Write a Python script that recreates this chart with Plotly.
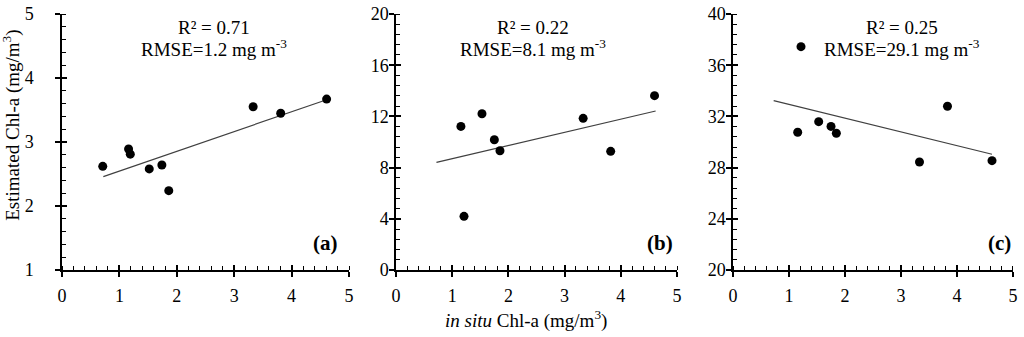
import plotly.graph_objects as go

# ---- data ----
x_a = [0.71, 1.16, 1.19, 1.52, 1.74, 1.86, 3.33, 3.81, 4.61]
y_a = [2.62, 2.89, 2.81, 2.58, 2.64, 2.24, 3.55, 3.45, 3.67]
trend_x_a = [0.72, 4.61]
trend_y_a = [2.46, 3.66]

x_b = [1.155, 1.21, 1.53, 1.75, 1.85, 3.33, 3.82, 4.60]
y_b = [11.22, 4.19, 12.21, 10.18, 9.32, 11.85, 9.27, 13.62]
trend_x_b = [0.72, 4.62]
trend_y_b = [8.41, 12.42]

x_c = [1.155, 1.214, 1.53, 1.75, 1.845, 3.33, 3.83, 4.625]
y_c = [30.76, 37.45, 31.59, 31.22, 30.68, 28.44, 32.79, 28.54]
trend_x_c = [0.726, 4.625]
trend_y_c = [33.23, 29.04]

r2_labels = ["R² = 0.71", "R² = 0.22", "R² = 0.25"]
rmse_labels = ["RMSE=1.2 mg m<sup>-3</sup>", "RMSE=8.1 mg m<sup>-3</sup>", "RMSE=29.1 mg m<sup>-3</sup>"]
panel_labels = ["(a)", "(b)", "(c)"]
y_ranges = [[1, 5], [0, 20], [20, 40]]
y_dticks = [1, 4, 4]
y_minor = [0.2, 0.8, 0.8]
x_range = [0, 5]

FONT = "Liberation Serif"

panels = [(x_a, y_a, trend_x_a, trend_y_a), (x_b, y_b, trend_x_b, trend_y_b), (x_c, y_c, trend_x_c, trend_y_c)]
domains = [[0.0, 0.3018], [0.3512, 0.6467], [0.7056, 1.0]]
r2_x = [0.53, 0.488, 0.604]
lab_x = [0.969, 0.993, 1.0]
ystandoff = [18, -3, -3]

fig = go.Figure()
layout = {}
for i, (px, py, tx, ty) in enumerate(panels):
    n = i + 1
    xs = "x" if n == 1 else f"x{n}"
    ys = "y" if n == 1 else f"y{n}"
    fig.add_trace(go.Scatter(x=tx, y=ty, mode="lines", line=dict(color="#404040", width=1.2),
                             xaxis=xs, yaxis=ys, showlegend=False, hoverinfo="skip"))
    fig.add_trace(go.Scatter(x=px, y=py, mode="markers", marker=dict(color="black", size=9),
                             xaxis=xs, yaxis=ys, showlegend=False))
    xk = "xaxis" if n == 1 else f"xaxis{n}"
    yk = "yaxis" if n == 1 else f"yaxis{n}"
    layout[xk] = dict(domain=domains[i], range=x_range, anchor=ys, dtick=1, tick0=0, automargin=False,
                      showline=True, linecolor="black", linewidth=1.5, showgrid=False, zeroline=False,
                      ticks="outside", ticklen=5, tickwidth=1.5, tickcolor="black", ticklabeloverflow="allow",
                      minor=dict(dtick=0.2, tick0=0, ticks="inside", ticklen=4, tickwidth=1.2, tickcolor="black"),
                      tickfont=dict(family=FONT, size=18, color="black"), ticklabelstandoff=4)
    layout[yk] = dict(domain=[0, 1], range=y_ranges[i], anchor=xs, dtick=y_dticks[i], tick0=y_ranges[i][0],
                      automargin=False, ticklabeloverflow="allow",
                      showline=True, linecolor="black", linewidth=1.5, showgrid=False, zeroline=False,
                      ticks="outside", ticklen=5, tickwidth=1.5, tickcolor="black",
                      minor=dict(dtick=y_minor[i], tick0=y_ranges[i][0], ticks="inside", ticklen=4, tickwidth=1.2, tickcolor="black"),
                      tickfont=dict(family=FONT, size=18, color="black"), ticklabelstandoff=ystandoff[i])
    # overlay axes giving the inside half of the crossing major ticks
    on = n + 3
    layout[f"xaxis{on}"] = dict(overlaying=xs, anchor=ys, range=x_range, dtick=1, tick0=0, side="bottom",
                                automargin=False,
                                showline=False, showgrid=False, zeroline=False, showticklabels=False,
                                ticks="inside", ticklen=5, tickwidth=1.5, tickcolor="black")
    layout[f"yaxis{on}"] = dict(overlaying=ys, anchor=xs, range=y_ranges[i], dtick=y_dticks[i], tick0=y_ranges[i][0],
                                automargin=False,
                                side="left", showline=False, showgrid=False, zeroline=False, showticklabels=False,
                                ticks="inside", ticklen=5, tickwidth=1.5, tickcolor="black")
    fig.add_trace(go.Scatter(x=[None], y=[None], xaxis=f"x{on}", yaxis=f"y{on}", showlegend=False))

annotations = []
for i in range(3):
    n = i + 1
    xs = "x" if n == 1 else f"x{n}"
    ys = "y" if n == 1 else f"y{n}"
    annotations.append(dict(text=r2_labels[i], xref=f"{xs} domain", yref=f"{ys} domain", x=r2_x[i], y=0.949,
                            xanchor="center", yanchor="middle",
                            showarrow=False, font=dict(family=FONT, size=19, color="black")))
    annotations.append(dict(text=rmse_labels[i], xref=f"{xs} domain", yref=f"{ys} domain", x=r2_x[i], y=0.867,
                            xanchor="center", yanchor="middle",
                            showarrow=False, font=dict(family=FONT, size=19, color="black")))
    annotations.append(dict(text=f"<b>{panel_labels[i]}</b>", xref=f"{xs} domain", yref=f"{ys} domain",
                            x=lab_x[i], y=0.105, xanchor="right", yanchor="middle", showarrow=False,
                            font=dict(family=FONT, size=21, color="black")))
annotations.append(dict(text="Estimated Chl-a (mg/m<sup>3</sup>)", xref="paper", yref="paper", x=-0.054, y=0.566,
                        xanchor="center", yanchor="middle",
                        textangle=-90, showarrow=False, font=dict(family=FONT, size=19, color="black")))
annotations.append(dict(text="<i>in situ</i> Chl-a (mg/m<sup>3</sup>)", xref="paper", yref="paper", x=0.488, y=-0.195,
                        xanchor="center", yanchor="middle",
                        showarrow=False, font=dict(family=FONT, size=19, color="black")))

fig.update_layout(**layout)
fig.update_layout(template="none", width=1024, height=337, margin=dict(l=62, r=11, t=14, b=67, autoexpand=False),
                  paper_bgcolor="white", plot_bgcolor="white", annotations=annotations,
                  font=dict(family=FONT, color="black"), showlegend=False)
fig.write_html("out.html", config={"displayModeBar": False},
               post_script="document.body.style.margin='0';")
